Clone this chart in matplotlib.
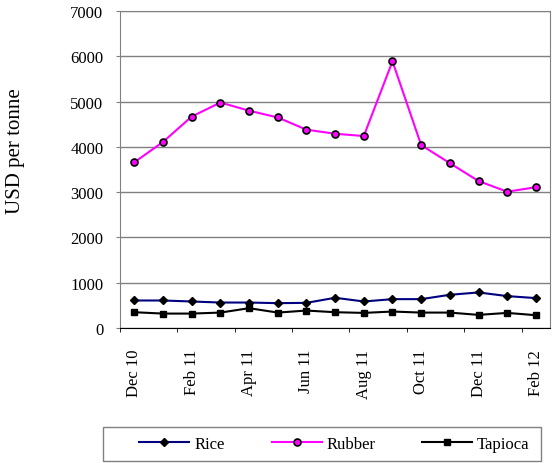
import matplotlib.pyplot as plt
from matplotlib.patches import Rectangle

months = ["Dec 10", "Jan 11", "Feb 11", "Mar 11", "Apr 11", "May 11", "Jun 11", "Jul 11",
          "Aug 11", "Sep 11", "Oct 11", "Nov 11", "Dec 11", "Jan 12", "Feb 12"]
rice = [607, 607, 585, 562, 562, 548, 555, 667, 585, 637, 637, 733, 785, 704, 660]
rubber = [3660, 4110, 4670, 4980, 4800, 4650, 4380, 4290, 4240, 5890, 4040, 3640, 3245, 3010, 3110]
tapioca = [348, 318, 318, 340, 437, 340, 385, 348, 333, 363, 340, 340, 289, 333, 282]

plt.rcParams['font.family'] = ['Liberation Serif', 'DejaVu Serif']

fig = plt.figure(figsize=(5.53, 4.64), dpi=100)
ax = fig.add_axes([0.217, 0.291, 0.778, 0.683])

x = list(range(len(months)))
ax.plot(x, rice, color='#000080', lw=1.5, marker='D', ms=4, mfc='black', mec='black', label='Rice')
ax.plot(x, rubber, color='#FF00FF', lw=1.5, marker='o', ms=5, mfc='#FF00FF', mec='black', mew=1.2, label='Rubber')
ax.plot(x, tapioca, color='black', lw=1.5, marker='s', ms=5, mfc='black', mec='black', label='Tapioca')

ax.set_ylim(0, 7000)
ax.set_yticks(range(0, 7001, 1000))
ax.set_xlim(-0.5, len(months) - 0.5)
ax.set_xticks(x[::2])
ax.set_xticklabels(months[::2], rotation=90, fontsize=12)
ax.set_xticks([i - 0.5 for i in x[::2]], minor=True)
ax.tick_params(axis='x', which='major', length=0, pad=15)
ax.tick_params(axis='x', which='minor', length=3, color='black')
ax.tick_params(axis='y', labelsize=12, length=3, pad=9, color='#808080')
ax.yaxis.grid(True, color='#808080', lw=1)
ax.set_axisbelow(True)
ax.spines['top'].set_color('#808080')
ax.spines['right'].set_color('#808080')
ax.spines['left'].set_color('#808080')
ax.spines['bottom'].set_color('black')
ax.set_ylabel('USD per tonne', fontsize=15)
ax.yaxis.set_label_coords(-0.22, 0.562)

leg = fig.legend(loc='center', bbox_to_anchor=(0.605, 0.041), ncol=3, fontsize=12,
                 frameon=False, handlelength=3.0, handletextpad=0.3, columnspacing=2.8)
fig.patches.append(Rectangle((0.186, 0.004), 0.792, 0.073, transform=fig.transFigure,
                             fill=False, edgecolor='#808080', lw=1))

fig.savefig('out.png', dpi=100)
